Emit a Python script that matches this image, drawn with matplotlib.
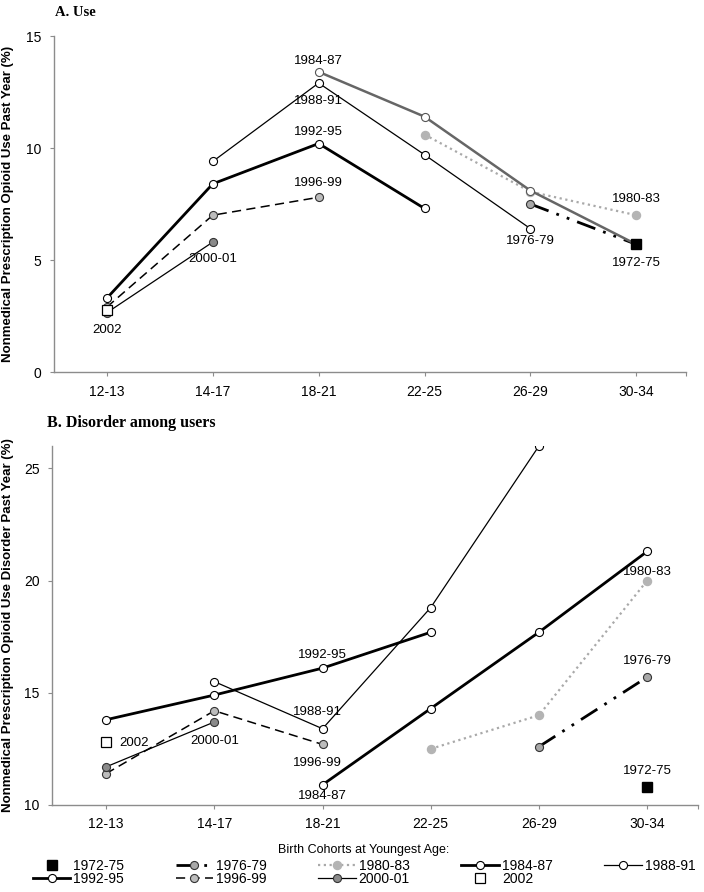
import numpy as np
import matplotlib
matplotlib.use("Agg")
import matplotlib.pyplot as plt
from matplotlib.lines import Line2D

plt.rcParams['font.family'] = ['Liberation Sans', 'DejaVu Sans']

nan = np.nan
ages = ["12-13", "14-17", "18-21", "22-25", "26-29", "30-34"]
cohorts = ["1972-75", "1976-79", "1980-83", "1984-87", "1988-91",
           "1992-95", "1996-99", "2000-01", "2002"]

use_1972_75 = [nan, nan, nan, nan, nan, 5.7]
use_1976_79 = [nan, nan, nan, nan, 7.5, 5.7]
use_1980_83 = [nan, nan, nan, 10.6, 8.05, 7.0]
use_1984_87 = [nan, nan, 13.4, 11.4, 8.1, 5.7]
use_1988_91 = [nan, 9.4, 12.9, 9.7, 6.4, nan]
use_1992_95 = [3.3, 8.4, 10.2, 7.3, nan, nan]
use_1996_99 = [2.9, 7.0, 7.8, nan, nan, nan]
use_2000_01 = [2.65, 5.8, nan, nan, nan, nan]
use_2002 = [2.78, nan, nan, nan, nan, nan]

dis_1972_75 = [nan, nan, nan, nan, nan, 10.8]
dis_1976_79 = [nan, nan, nan, nan, 12.6, 15.7]
dis_1980_83 = [nan, nan, nan, 12.5, 14.0, 20.0]
dis_1984_87 = [nan, nan, 10.9, 14.3, 17.7, 21.3]
dis_1988_91 = [nan, 15.5, 13.4, 18.8, 26.0, nan]
dis_1992_95 = [13.8, 14.9, 16.1, 17.7, nan, nan]
dis_1996_99 = [11.4, 14.2, 12.7, nan, nan, nan]
dis_2000_01 = [11.7, 13.7, nan, nan, nan, nan]
dis_2002 = [12.8, nan, nan, nan, nan, nan]

use_data = [use_1972_75, use_1976_79, use_1980_83, use_1984_87, use_1988_91,
            use_1992_95, use_1996_99, use_2000_01, use_2002]
dis_data = [dis_1972_75, dis_1976_79, dis_1980_83, dis_1984_87, dis_1988_91,
            dis_1992_95, dis_1996_99, dis_2000_01, dis_2002]

# label annotations: (text, x index, y value, ha)
use_labels = [("1984-87", 2, 13.87, "center"), ("1988-91", 2, 12.1, "center"),
              ("1992-95", 2, 10.72, "center"), ("1996-99", 2, 8.45, "center"),
              ("2000-01", 1, 5.03, "center"), ("2002", 0, 1.88, "center"),
              ("1976-79", 4, 5.86, "center"), ("1980-83", 5, 7.72, "center"),
              ("1972-75", 5, 4.88, "center")]
dis_labels = [("1992-95", 2, 16.68, "center"), ("1988-91", 1.95, 14.16, "center"),
              ("1980-83", 5, 20.39, "center"), ("1976-79", 5, 16.43, "center"),
              ("2002", 0.12, 12.77, "left"), ("2000-01", 1, 12.85, "center"),
              ("1996-99", 1.95, 11.88, "center"), ("1984-87", 2, 10.41, "center"),
              ("1972-75", 5, 11.53, "center")]

MS = 5.8
dashdotdot = (0, (7, 3, 1, 3, 1, 3))
styles = {
    "1972-75": dict(color="black", lw=0, marker="s", ms=7.5, mfc="black", mec="black"),
    "1976-79": dict(color="black", lw=2.0, ls=dashdotdot, marker="o", ms=MS, mfc="#a8a8a8", mec="#333333", mew=0.8),
    "1980-83": dict(color="#a9a9a9", lw=1.6, ls=(0, (1, 1.6)), marker="o", ms=MS, mfc="#b4b4b4", mec="#b4b4b4"),
    "1984-87": dict(color="black", lw=2.0, marker="o", ms=MS, mfc="white", mec="black", mew=0.8),
    "1988-91": dict(color="black", lw=0.9, marker="o", ms=MS, mfc="white", mec="black", mew=0.8),
    "1992-95": dict(color="black", lw=2.0, marker="o", ms=MS, mfc="white", mec="black", mew=0.8),
    "1996-99": dict(color="black", lw=1.1, ls=(0, (6, 3.5)), marker="o", ms=MS, mfc="#bcbcbc", mec="#333333", mew=0.8),
    "2000-01": dict(color="black", lw=0.9, marker="o", ms=MS, mfc="#8a8a8a", mec="#333333", mew=0.8),
    "2002": dict(color="black", lw=0, marker="s", ms=6.5, mfc="white", mec="black", mew=0.9),
}
use_override = {"1984-87": dict(color="#666666", lw=1.8, mec="#555555")}

fig = plt.figure(figsize=(7.04, 8.92), dpi=100)
axA = fig.add_axes([54/704, 1-372/892, (686-54)/704, (372-36)/892])
axB = fig.add_axes([52/704, 1-805/892, (698-52)/704, (805-446)/892])

order = ["1980-83", "1976-79", "1984-87", "1988-91", "1992-95", "1996-99",
         "2000-01", "2002", "1972-75"]
x = np.arange(len(ages))

def draw(ax, data, labels, override):
    for name in order:
        vals = np.array(data[cohorts.index(name)], dtype=float)
        st = dict(styles[name])
        st.update(override.get(name, {}))
        ax.plot(x, vals, **st, zorder=3)
    for t, xi, yv, ha in labels:
        ax.text(xi, yv, t, ha=ha, va="center", fontsize=9.5, color="black", zorder=5)
    ax.set_xticks(x)
    ax.set_xticklabels(ages, fontsize=10)
    ax.set_xlim(-0.5, 5.47)
    ax.set_xticks([5.47], minor=True)
    for s in ["top", "right"]:
        ax.spines[s].set_visible(False)
    for s in ["left", "bottom"]:
        ax.spines[s].set_color("#8c8c8c")
        ax.spines[s].set_linewidth(1.0)
    ax.tick_params(axis="both", which="both", direction="out", length=3,
                   width=0.8, color="#8c8c8c", labelsize=10, pad=6)

draw(axA, use_data, use_labels, use_override)
axA.set_ylim(0, 15)
axA.set_yticks([0, 5, 10, 15])
axA.set_ylabel("Nonmedical Prescription Opioid Use Past Year (%)",
               fontsize=9.5, fontweight="bold")
axA.yaxis.set_label_coords((14.5-54)/632, 0.5)

draw(axB, dis_data, dis_labels, {})
axB.set_ylim(10, 26)
axB.set_yticks([10, 15, 20, 25])
axB.set_ylabel("Nonmedical Prescription Opioid Use Disorder Past Year (%)",
               fontsize=9.5, fontweight="bold")
axB.yaxis.set_label_coords((14.5-52)/646, 0.5)

fig.text(55/704, 1-13/892, "A. Use", fontsize=10.5, fontweight="bold",
         family="Liberation Serif", ha="left", va="center")
fig.text(47/704, 1-423/892, "B. Disorder among users", fontsize=11.5, fontweight="bold",
         family="Liberation Serif", ha="left", va="center")

# legend: matplotlib fills column-wise, reference reads row-wise
leg_order = ["1972-75", "1992-95", "1976-79", "1996-99", "1980-83", "2000-01",
             "1984-87", "2002", "1988-91"]
handles = []
for name in leg_order:
    st = dict(styles[name])
    if st.get("lw", 1) == 0:
        h = Line2D([], [], linestyle="none", **{k: v for k, v in st.items() if k not in ("lw", "color")})
    else:
        h = Line2D([], [], **st)
    handles.append(h)

leg = fig.legend(handles, leg_order, ncol=5, loc="upper center",
                 bbox_to_anchor=(364/704, 1-831/892), frameon=False, fontsize=10,
                 handlelength=2.7, handletextpad=0.2, columnspacing=3.72,
                 labelspacing=-0.1, title="Birth Cohorts at Youngest Age:",
                 title_fontsize=9)
leg._legend_box.sep = 2.5

fig.savefig("out.png", dpi=100)
